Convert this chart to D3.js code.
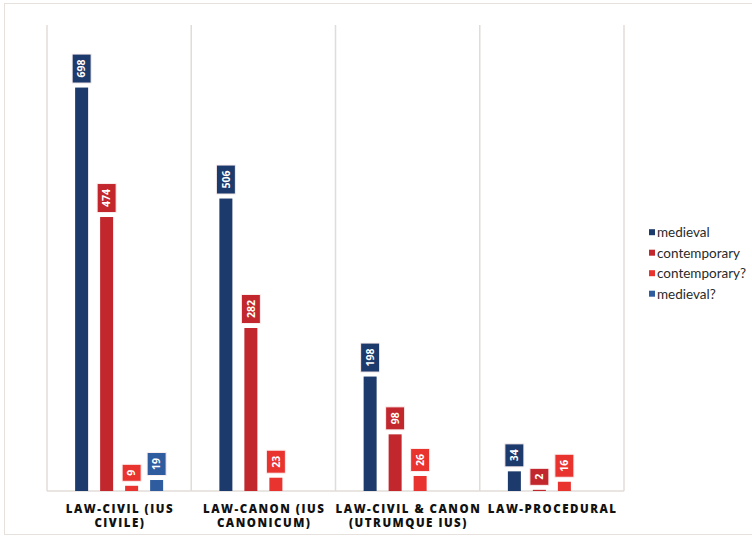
<!DOCTYPE html>
<html><head><meta charset="utf-8">
<script src="https://cdn.jsdelivr.net/npm/d3@7"></script>
<style>body{margin:0;background:#fff;}svg{display:block;}</style>
</head><body>
<svg id="chart" width="752" height="536"></svg>
<script>
const categories = [["LAW-CIVIL (IUS","CIVILE)"],["LAW-CANON (IUS","CANONICUM)"],["LAW-CIVIL & CANON","(UTRUMQUE IUS)"],["LAW-PROCEDURAL"]];
const seriesNames = ["medieval","contemporary","contemporary?","medieval?"];
const seriesColors = ["#1c3a6c","#c1272d","#e8332f","#2e5c9f"];
const medieval = [698, 506, 198, 34];
const contemporary = [474, 282, 98, 2];
const contemporaryQ = [9, 23, 26, 16];
const medievalQ = [19, null, null, null];
const seriesValues = [medieval, contemporary, contemporaryQ, medievalQ];

const svg = d3.select("#chart");
const plotLeft = 47, plotRight = 624, plotTop = 28.6, plotBottom = 491;

svg.append("rect").attr("x",4.5).attr("y",3.5).attr("width",800).attr("height",531)
  .attr("fill","none").attr("stroke","#e6e1dd").attr("stroke-width",1);

const x0 = d3.scaleBand().domain(d3.range(categories.length)).range([plotLeft,plotRight]).padding(0);
const x1 = d3.scaleBand().domain(d3.range(seriesNames.length))
  .range([0,100]).paddingInner(12/25).paddingOuter(6/25);
const y = d3.scaleLinear().domain([0,800]).range([plotBottom, plotTop]);

const seps = d3.range(categories.length+1).map(i => i===categories.length ? plotRight : x0(i));
svg.selectAll("line.sep").data(seps).enter().append("line")
  .attr("x1",d=>d).attr("x2",d=>d).attr("y1",25).attr("y2",plotBottom)
  .attr("stroke","#e0dcd9").attr("stroke-width",1.5);
svg.append("line").attr("x1",plotLeft).attr("x2",plotRight).attr("y1",plotBottom).attr("y2",plotBottom)
  .attr("stroke","#e0dcd9").attr("stroke-width",1.5);

const bars = [];
categories.forEach((c,ci)=>{
  seriesValues.forEach((vals,si)=>{
    if (vals[ci]==null) return;
    bars.push({ci, si, v: vals[ci]});
  });
});

const g = svg.append("g");
bars.forEach(b=>{
  const cx0 = x0(b.ci) + x0.bandwidth()/2 - 50;
  const bx = cx0 + x1(b.si);
  const bw = x1.bandwidth();
  const yt = y(b.v);
  g.append("rect").attr("x",bx).attr("y",yt).attr("width",bw).attr("height",plotBottom-yt)
    .attr("fill",seriesColors[b.si]);
  const label = String(b.v);
  const boxH = 11 + label.length*6;
  const boxW = 19;
  const cx = bx + bw/2;
  const boxBottom = yt - 4.5;
  g.append("rect").attr("x",cx-boxW/2).attr("y",boxBottom-boxH).attr("width",boxW).attr("height",boxH)
    .attr("fill",seriesColors[b.si]).attr("stroke","#fbeeee").attr("stroke-width",1);
  const ty = boxBottom-boxH/2;
  g.append("text")
    .attr("transform",`translate(${cx+3.8},${ty}) rotate(-90)`)
    .attr("text-anchor","middle").attr("fill","#fff")
    .style("font-family","'Open Sans', sans-serif").style("font-size","10.5px").style("font-weight","bold")
    .text(label);
});

categories.forEach((lines,ci)=>{
  const cx = x0(ci)+x0.bandwidth()/2;
  const t = svg.append("text").attr("text-anchor","middle")
    .style("font-family","'Open Sans', sans-serif").style("font-size","11.5px").style("font-weight","800")
    .style("letter-spacing","1.5px").attr("fill","#111");
  lines.forEach((ln,li)=>{
    t.append("tspan").attr("x",cx+0.8).attr("y",513+li*14).text(ln);
  });
});

const lg = svg.append("g");
seriesNames.forEach((n,i)=>{
  const yy = 232.7 + i*20.5;
  lg.append("rect").attr("x",649).attr("y",yy-3.5).attr("width",6).attr("height",6).attr("fill",seriesColors[i]);
  lg.append("text").attr("x",657).attr("y",yy+4.5).attr("fill","#2a2a2a")
    .style("font-family","Lato, sans-serif").style("font-size","13.5px").text(n);
});
</script>
</body></html>
